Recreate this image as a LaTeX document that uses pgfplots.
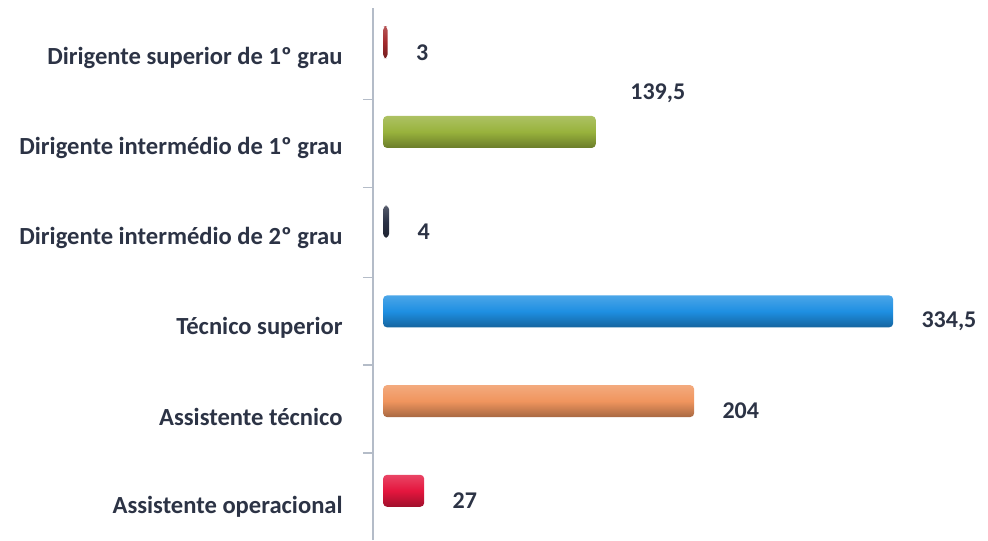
\documentclass[border=0pt]{standalone}
\usepackage{fontspec}
\setmainfont{Carlito}
\usepackage{pgfplots}
\pgfplotsset{compat=1.18}

\definecolor{txt}{HTML}{2C3345}
\definecolor{axgray}{HTML}{B4BCC8}
\definecolor{cdred}{HTML}{A42A2C}
\definecolor{colive}{HTML}{98B23C}
\definecolor{cnavy}{HTML}{2B3246}
\definecolor{cblue}{HTML}{1E8FE2}
\definecolor{corange}{HTML}{F0955E}
\definecolor{ccrimson}{HTML}{E4163E}

\pgfplotsset{
  cyl/.style={xbar, bar width=16pt, bar shift=8pt, draw=none,
    shade, top color=#1!80!white, bottom color=#1!70!black, middle color=#1,
    rounded corners=2pt,
    nodes near coords,
    every node near coord/.style={anchor=west, xshift=14pt, yshift=3pt,
      inner sep=0pt, font=\bfseries\fontsize{12}{14}\selectfont, text=txt}},
}

\begin{document}
\begin{tikzpicture}
\begin{axis}[
  name=ax,
  scale only axis,
  width=307.5pt, height=266pt,
  xmin=-6.6, xmax=396.7,
  ymin=-0.37, ymax=5.56,
  clip=false,
  axis x line=none,
  axis y line*=left,
  y axis line style={draw=axgray, line width=0.8pt},
  ytick={0,...,5},
  yticklabels={Assistente operacional, Assistente técnico, Técnico superior,
    Dirigente intermédio de 2º grau, Dirigente intermédio de 1º grau,
    Dirigente superior de 1º grau},
  major tick length=0pt,
  minor ytick={0.6,1.58,2.56,3.56,4.54},
  minor tick length=5pt,
  tick align=outside,
  minor tick style={draw=axgray, line width=0.6pt},
  yticklabel style={anchor=east, inner sep=0pt, xshift=-15pt,
    font=\bfseries\fontsize{12.3}{14}\selectfont, text=txt},
  /pgf/number format/.cd, use comma, assume math mode=true,
]
\addplot[cyl=cdred] coordinates {(3,5)};
\addplot[cyl=colive, every node near coord/.append style={anchor=center, xshift=17pt, yshift=24.5pt}] coordinates {(139.5,4)};
\addplot[cyl=cnavy] coordinates {(4,3)};
\addplot[cyl=cblue] coordinates {(334.5,2)};
\addplot[cyl=corange] coordinates {(204,1)};
\addplot[cyl=ccrimson] coordinates {(27,0)};
\end{axis}
\pgfresetboundingbox
\path ([xshift=-186.5pt]ax.south west) rectangle ([yshift=4pt]ax.north east);
\end{tikzpicture}
\end{document}
